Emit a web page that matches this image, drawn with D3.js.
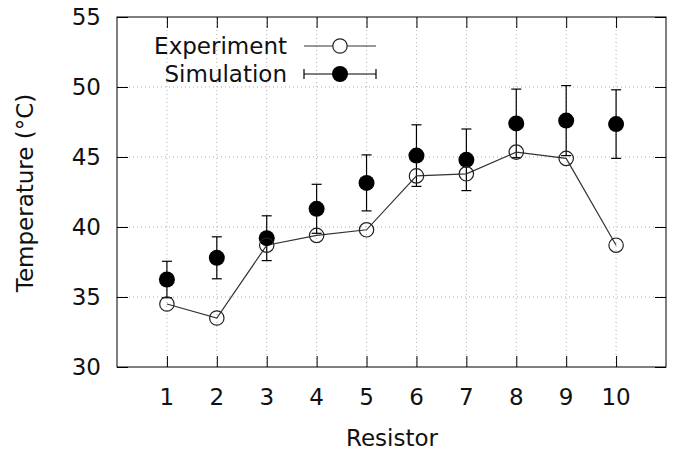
<!DOCTYPE html>
<html>
<head>
<meta charset="utf-8">
<script src="https://cdn.jsdelivr.net/npm/d3@7"></script>
<style>
  body { margin: 0; background: #fff; }
  svg { display: block; font-family: "DejaVu Sans", sans-serif; }
  .grid line { stroke: #b0b0b0; stroke-width: 1; stroke-dasharray: 1,3; }
</style>
</head>
<body>
<svg id="chart" width="678" height="453"></svg>
<script>
// data
const resistors = [1, 2, 3, 4, 5, 6, 7, 8, 9, 10];
const experiment = [34.5, 33.5, 38.7, 39.4, 39.8, 43.65, 43.8, 45.35, 44.9, 38.7];
const simulation = [36.25, 37.8, 39.2, 41.3, 43.15, 45.1, 44.8, 47.4, 47.6, 47.35];
const simError = [1.3, 1.5, 1.6, 1.75, 2.0, 2.2, 2.2, 2.45, 2.5, 2.45];
const yTicks = [30, 35, 40, 45, 50, 55];

const svg = d3.select("#chart");
const margin = { left: 117, right: 12, top: 17, bottom: 86 };
const width = 678, height = 453;
const fs = 23; // font size

const x = d3.scaleLinear().domain([0, 11]).range([margin.left, width - margin.right]);
const y = d3.scaleLinear().domain([30, 55]).range([height - margin.bottom, margin.top]);

const x0 = x.range()[0], x1 = x.range()[1];
const y0 = y.range()[0], y1 = y.range()[1];

// grid (dotted)
const grid = svg.append("g").attr("class", "grid");
grid.selectAll(".gx").data(resistors).join("line")
    .attr("x1", d => x(d)).attr("x2", d => x(d))
    .attr("y1", y0).attr("y2", y1);
grid.selectAll(".gy").data(yTicks.slice(1, -1)).join("line")
    .attr("x1", x0).attr("x2", x1)
    .attr("y1", d => y(d)).attr("y2", d => y(d));

// axes, ticks pointing inward, mirrored on top/right
const tick = 11;
svg.append("g").attr("transform", `translate(0,${y0})`)
    .call(d3.axisTop(x).tickValues(resistors).tickSize(tick).tickFormat(""))
    .call(g => g.select(".domain").remove());
svg.append("g").attr("transform", `translate(0,${y1})`)
    .call(d3.axisBottom(x).tickValues(resistors).tickSize(tick).tickFormat(""))
    .call(g => g.select(".domain").remove());
svg.append("g").attr("transform", `translate(${x0},0)`)
    .call(d3.axisRight(y).tickValues(yTicks).tickSize(tick).tickFormat(""))
    .call(g => g.select(".domain").remove());
svg.append("g").attr("transform", `translate(${x1},0)`)
    .call(d3.axisLeft(y).tickValues(yTicks).tickSize(tick).tickFormat(""))
    .call(g => g.select(".domain").remove());
svg.selectAll(".tick line").attr("stroke", "#000").attr("stroke-width", 1);

// frame
svg.append("rect")
    .attr("x", x0).attr("y", y1).attr("width", x1 - x0).attr("height", y0 - y1)
    .attr("fill", "none").attr("stroke", "#000").attr("stroke-width", 1);

// tick labels
svg.append("g").selectAll("text").data(resistors).join("text")
    .attr("x", d => x(d)).attr("y", 405)
    .attr("text-anchor", "middle").attr("font-size", fs).attr("fill", "#111")
    .text(d => d);
svg.append("g").selectAll("text").data(yTicks).join("text")
    .attr("x", 101).attr("y", d => y(d) + 8)
    .attr("text-anchor", "end").attr("font-size", fs).attr("fill", "#111")
    .text(d => d);

// axis titles
svg.append("text").attr("x", 392).attr("y", 446)
    .attr("text-anchor", "middle").attr("font-size", fs).attr("fill", "#111")
    .text("Resistor");
svg.append("text").attr("transform", "translate(33,193) rotate(-90)")
    .attr("text-anchor", "middle").attr("font-size", fs).attr("fill", "#111")
    .text("Temperature (°C)");

// simulation error bars
const cap = 5;
const eb = svg.append("g").attr("stroke", "#000").attr("stroke-width", 1.2);
resistors.forEach((r, i) => {
    const lo = y(simulation[i] - simError[i]), hi = y(simulation[i] + simError[i]);
    eb.append("line").attr("x1", x(r)).attr("x2", x(r)).attr("y1", lo).attr("y2", hi);
    eb.append("line").attr("x1", x(r) - cap).attr("x2", x(r) + cap).attr("y1", lo).attr("y2", lo);
    eb.append("line").attr("x1", x(r) - cap).attr("x2", x(r) + cap).attr("y1", hi).attr("y2", hi);
});

// experiment line + open circles
const line = d3.line().x((d, i) => x(resistors[i])).y(d => y(d));
svg.append("path").datum(experiment)
    .attr("d", line).attr("fill", "none").attr("stroke", "#333").attr("stroke-width", 1.2);

svg.append("g").selectAll("circle").data(simulation).join("circle")
    .attr("cx", (d, i) => x(resistors[i])).attr("cy", d => y(d))
    .attr("r", 8).attr("fill", "#000");

svg.append("g").selectAll("circle").data(experiment).join("circle")
    .attr("cx", (d, i) => x(resistors[i])).attr("cy", d => y(d))
    .attr("r", 7.2).attr("fill", "none").attr("stroke", "#222").attr("stroke-width", 1.2);

// legend
const legend = svg.append("g").attr("font-size", fs).attr("fill", "#111");
const lx0 = 304, lx1 = 376, lxc = 340;
legend.append("text").attr("x", 287).attr("y", 54).attr("text-anchor", "end").text("Experiment");
legend.append("line").attr("x1", lx0).attr("x2", lx1).attr("y1", 46).attr("y2", 46)
    .attr("stroke", "#333").attr("stroke-width", 1.2);
legend.append("circle").attr("cx", lxc).attr("cy", 46).attr("r", 7.2)
    .attr("fill", "#fff").attr("stroke", "#222").attr("stroke-width", 1.2);
legend.append("text").attr("x", 287).attr("y", 82).attr("text-anchor", "end").text("Simulation");
legend.append("line").attr("x1", lx0).attr("x2", lx1).attr("y1", 74).attr("y2", 74)
    .attr("stroke", "#000").attr("stroke-width", 1.2);
[lx0, lx1].forEach(v => legend.append("line")
    .attr("x1", v).attr("x2", v).attr("y1", 69).attr("y2", 79)
    .attr("stroke", "#000").attr("stroke-width", 1.2));
legend.append("circle").attr("cx", lxc).attr("cy", 74).attr("r", 8).attr("fill", "#000");
</script>
</body>
</html>
